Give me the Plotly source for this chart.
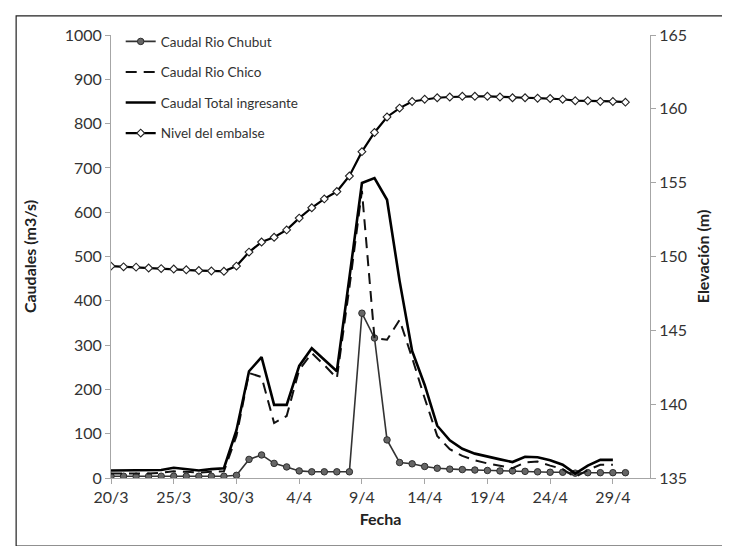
import pandas as pd
import plotly.graph_objects as go

# dias del 20/3 al 30/4
FECHAS = pd.date_range("2000-03-20", periods=42, freq="D")

CHUBUT = [4, 4, 4, 4, 4, 4, 4, 4, 4, 4, 6, 42, 52, 33, 25, 16, 14, 14, 14, 14,
          372, 316, 86, 35, 32, 26, 22, 20, 19, 18, 17, 16, 16, 15, 14, 13, 13, 11,
          12, 12, 12, 12]
CHICO = [10, 10, 10, 10, 12, 15, 14, 12, 14, 15, 95, 237, 228, 124, 140, 244, 282, 255,
         225, 430, 648, 316, 312, 357, 271, 180, 95, 65, 50, 40, 33, 28, 22, 35, 37,
         28, 20, 2, 18, 30, 30, None]
TOTAL = [17, 17, 17, 17, 18, 23, 20, 17, 20, 22, 108, 241, 273, 165, 165, 253, 293, 267,
         241, 452, 666, 677, 628, 445, 287, 210, 118, 85, 66, 55, 48, 42, 36, 48, 47,
         40, 30, 10, 28, 41, 41, None]
NIVEL = [149.35, 149.3, 149.28, 149.22, 149.18, 149.15, 149.1, 149.05, 149.02, 149.0,
         149.35, 150.3, 150.98, 151.3, 151.8, 152.6, 153.3, 153.9, 154.4, 155.45,
         157.1, 158.4, 159.45, 160.05, 160.5, 160.65, 160.75, 160.8, 160.85, 160.85,
         160.85, 160.8, 160.75, 160.75, 160.72, 160.7, 160.65, 160.55, 160.55, 160.5,
         160.5, 160.45]

FONT = "Lato"
AXIS_GREY = "#a6a6a6"
TEXT = "#333333"

fig = go.Figure()
fig.add_trace(go.Scatter(
    x=FECHAS, y=CHUBUT, name="Caudal Rio Chubut", mode="lines+markers",
    legendgroup="a",
    line=dict(color="#333333", width=1.6),
    marker=dict(symbol="circle", size=6.5, color="#666666",
                line=dict(color="#2e2e2e", width=1)),
))
fig.add_trace(go.Scatter(
    x=FECHAS, y=CHICO, name="Caudal Rio Chico", mode="lines",
    legendgroup="b",
    line=dict(color="#111111", width=2, dash="11px,7px"),
))
fig.add_trace(go.Scatter(
    x=FECHAS, y=TOTAL, name="Caudal Total ingresante", mode="lines",
    legendgroup="c",
    line=dict(color="#000000", width=2.6),
))
fig.add_trace(go.Scatter(
    x=FECHAS, y=NIVEL, name="Nivel del embalse", mode="lines+markers",
    legendgroup="d", yaxis="y2",
    line=dict(color="#000000", width=2.2),
    marker=dict(symbol="diamond", size=6, color="white",
                line=dict(color="#222222", width=1.1)),
))

fig.update_layout(
    width=730, height=546,
    margin=dict(l=103, r=88, t=27, b=76),
    paper_bgcolor="white", plot_bgcolor="white",
    font=dict(family=FONT, size=16, color=TEXT),
    showlegend=True,
    legend=dict(x=0.018, y=1.02, xanchor="left", yanchor="top",
                bgcolor="rgba(0,0,0,0)", font=dict(size=13.5, color=TEXT),
                traceorder="grouped", tracegroupgap=10),
    xaxis=dict(
        range=["2000-03-20", "2000-05-01 23:00"],
        tick0="2000-03-20", dtick=5 * 86400000, tickformat="%-d/%-m",
        showline=True, linecolor=AXIS_GREY, linewidth=1,
        ticks="outside", tickcolor=AXIS_GREY, ticklen=5,
        showgrid=False, zeroline=False,
        title=dict(text="<b>Fecha</b>", standoff=8, font=dict(size=16, color="#222222")),
    ),
    yaxis=dict(
        range=[0, 1000], dtick=100,
        showline=True, linecolor=AXIS_GREY, linewidth=1,
        ticks="outside", tickcolor=AXIS_GREY, ticklen=5,
        showgrid=False, zeroline=False,
        title=dict(text="<b>Caudales (m3/s)</b>", standoff=24, font=dict(size=16, color="#222222")),
    ),
    yaxis2=dict(
        range=[135, 165], dtick=5, overlaying="y", side="right",
        showline=True, linecolor=AXIS_GREY, linewidth=1,
        ticks="outside", tickcolor=AXIS_GREY, ticklen=5,
        showgrid=False, zeroline=False,
        title=dict(text="<b>Elevación (m)</b>", standoff=11, font=dict(size=16, color="#222222")),
    ),
)

# marco exterior
fig.add_shape(type="rect", xref="paper", yref="paper",
              x0=-0.176, x1=1.148, y0=-0.1535, y1=1.043,
              line=dict(color="#222222", width=1.2))

fig.write_html("out.html")
